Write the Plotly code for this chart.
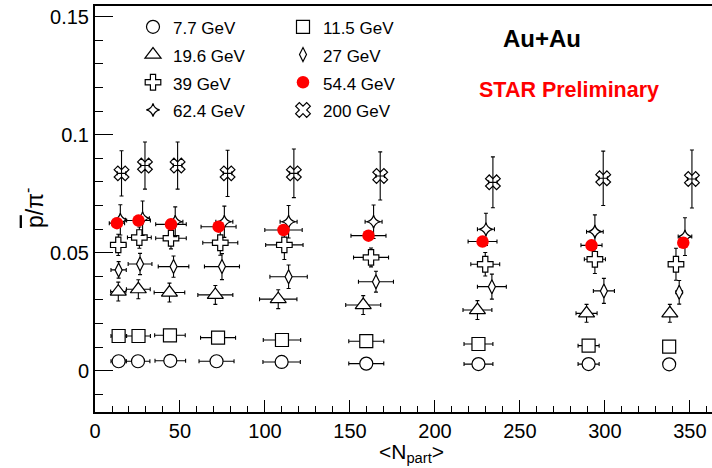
import plotly.graph_objects as go

# ---------------- data ----------------
npart_7p7 = [13.9, 25.3, 44.3, 71.5, 109.8, 159.6, 225.6, 290.4, 337.8]
ratio_7p7 = [0.0040, 0.0040, 0.0042, 0.0040, 0.0037, 0.0030, 0.0028, 0.0028, 0.0027]
err_7p7 = [0.0004, 0.0004, 0.0004, 0.0004, 0.0004, 0.0004, 0.0004, 0.0004, 0.0004]

npart_11p5 = [13.9, 25.6, 44.1, 72.4, 110.0, 159.6, 225.6, 290.4, 337.8]
ratio_11p5 = [0.0147, 0.0147, 0.0150, 0.0140, 0.0130, 0.0125, 0.0113, 0.0106, 0.0102]
err_11p5 = [0.0008, 0.0008, 0.0008, 0.0008, 0.0008, 0.0008, 0.0008, 0.0008, 0.0008]

npart_19p6 = [13.7, 25.5, 43.8, 70.8, 107.8, 157.8, 225.0, 289.2, 338.2]
ratio_19p6 = [0.0335, 0.0345, 0.0331, 0.0321, 0.0303, 0.0278, 0.0257, 0.0243, 0.0243]
err_19p6 = [0.0040, 0.0040, 0.0040, 0.0040, 0.0040, 0.0040, 0.0040, 0.0038, 0.0038]

npart_27 = [13.9, 26.5, 46.2, 74.7, 113.9, 165.3, 233.5, 299.4, 343.7]
ratio_27 = [0.0427, 0.0452, 0.0441, 0.0441, 0.0398, 0.0377, 0.0356, 0.0338, 0.0332]
err_27 = [0.0035, 0.0045, 0.0045, 0.0055, 0.0050, 0.0044, 0.0053, 0.0053, 0.0050]

npart_39 = [13.7, 26.1, 44.7, 73.7, 111.4, 162.4, 229.6, 294.1, 341.8]
ratio_39 = [0.0533, 0.0564, 0.0561, 0.0542, 0.0533, 0.0480, 0.0451, 0.0472, 0.0451]
err_39 = [0.0045, 0.0045, 0.0045, 0.0053, 0.0062, 0.0040, 0.0050, 0.0060, 0.0068]

npart_54p4 = [12.9, 25.6, 44.7, 72.7, 110.9, 160.9, 228.0, 292.1, 346.1]
ratio_54p4 = [0.0625, 0.0636, 0.0620, 0.0610, 0.0596, 0.0572, 0.0547, 0.0531, 0.0542]
err_54p4 = [0.0015, 0.0015, 0.0015, 0.0015, 0.0015, 0.0015, 0.0015, 0.0015, 0.0015]

npart_62p4 = [14.9, 28.0, 47.2, 76.1, 113.9, 163.9, 230.0, 294.1, 347.1]
ratio_62p4 = [0.0639, 0.0646, 0.0631, 0.0631, 0.0631, 0.0631, 0.0599, 0.0589, 0.0568]
err_62p4 = [0.0064, 0.0073, 0.0063, 0.0066, 0.0069, 0.0071, 0.0068, 0.0071, 0.0080]
npart_err_62p4 = [3.0, 4.0, 4.5, 5.0, 5.0, 5.0, 5.0, 4.9, 4.0]

npart_200 = [15.6, 29.4, 48.6, 78.0, 117.0, 167.8, 234.1, 299.0, 351.2]
ratio_200 = [0.0836, 0.0869, 0.0869, 0.0836, 0.0836, 0.0825, 0.0798, 0.0815, 0.0812]
err_200 = [0.0096, 0.0100, 0.0100, 0.0098, 0.0103, 0.0102, 0.0108, 0.0115, 0.0123]
npart_err_200 = [2.5, 2.5, 2.5, 2.5, 2.5, 2.5, 2.5, 2.5, 2.5]

# horizontal (Npart) uncertainty per centrality bin
npart_err = [4.5, 7.0, 9.0, 10.3, 11.0, 10.3, 8.5, 6.2, 2.0]

x_ticks = [0, 50, 100, 150, 200, 250, 300, 350]
y_ticks = [0, 0.05, 0.1, 0.15]

FONT = "Liberation Sans, Arial, Helvetica, sans-serif"
INK = "#000000"

fig = go.Figure()


def add_series(name, xs, ys, ey, ex, symbol, size, color, fill, legend, lw=1.2):
    fig.add_trace(go.Scatter(
        x=xs, y=ys, mode="markers",
        name="<span style='font-size:17px'>%s</span>" % name,
        legend=legend,
        marker=dict(symbol=symbol, size=size, color=fill,
                    line=dict(color=color, width=lw)),
        error_y=dict(type="data", array=ey, visible=True, color=INK,
                     thickness=1.1, width=2),
        error_x=dict(type="data", array=ex, visible=True, color=INK,
                     thickness=1.1, width=2),
    ))


add_series("7.7 GeV", npart_7p7, ratio_7p7, err_7p7, npart_err,
           "circle", 13, INK, "white", "legend")
add_series("11.5 GeV", npart_11p5, ratio_11p5, err_11p5, npart_err,
           "square", 13, INK, "white", "legend2")
add_series("19.6 GeV", npart_19p6, ratio_19p6, err_19p6, npart_err,
           "triangle-up", 14, INK, "white", "legend")
add_series("27 GeV", npart_27, ratio_27, err_27, npart_err,
           "diamond-tall", 10, INK, "white", "legend2")
add_series("39 GeV", npart_39, ratio_39, err_39, npart_err,
           "cross", 13, INK, "white", "legend")
add_series("62.4 GeV", npart_62p4, ratio_62p4, err_62p4, npart_err_62p4,
           "star-diamond", 9.5, INK, "white", "legend")
add_series("54.4 GeV", npart_54p4, ratio_54p4, err_54p4, npart_err,
           "circle", 12.5, "red", "red", "legend2", lw=0)
add_series("200 GeV", npart_200, ratio_200, err_200, npart_err_200,
           "x-open", 13, INK, INK, "legend2")

# ---------------- layout ----------------
W, H = 712, 468
ML, MR, MT, MB = 95, 0, 6, 56
PW = W - ML - MR
PH = H - MT - MB
x_range = [0, 363]
y_range = [-0.0175, 0.1545]


def px_x(p):
    return (p - ML) / PW


def px_y(p):
    return 1 - (p - MT) / PH


legend_common = dict(
    font=dict(family=FONT, size=19, color=INK),
    bgcolor="rgba(0,0,0,0)", borderwidth=0,
    orientation="v", xanchor="left", yanchor="top",
    itemsizing="trace", tracegroupgap=0,
)

fig.update_layout(
    width=W, height=H,
    margin=dict(l=ML, r=MR, t=MT, b=MB, pad=0),
    paper_bgcolor="white", plot_bgcolor="white",
    font=dict(family=FONT, color=INK),
    showlegend=True,
    legend=dict(x=px_x(133), y=px_y(8), **legend_common),
    legend2=dict(x=px_x(283), y=px_y(8), **legend_common),
    xaxis=dict(
        range=x_range, tickvals=x_ticks, showgrid=False, zeroline=False,
        showline=True, linewidth=2, linecolor=INK, mirror=True,
        ticks="inside", ticklen=12, tickwidth=1, tickcolor=INK,
        tickfont=dict(family=FONT, size=20, color=INK),
        minor=dict(dtick=10, ticks="inside", ticklen=6, tickcolor=INK,
                   tickwidth=1, showgrid=False),
    ),
    yaxis=dict(
        range=y_range, tickvals=y_ticks, showgrid=False, zeroline=False,
        showline=True, linewidth=2, linecolor=INK, mirror=False,
        ticks="inside", ticklen=18, tickwidth=1, tickcolor=INK,
        tickfont=dict(family=FONT, size=20, color=INK),
        minor=dict(dtick=0.01, ticks="inside", ticklen=8, tickcolor=INK,
                   tickwidth=1, showgrid=False),
    ),
    annotations=[
        dict(text="<b>Au+Au</b>", x=px_x(542), y=px_y(38), xref="paper",
             yref="paper", showarrow=False, xanchor="center",
             yanchor="middle", font=dict(family=FONT, size=24, color=INK)),
        dict(text="<b>STAR Preliminary</b>", x=px_x(569), y=px_y(90),
             xref="paper", yref="paper", showarrow=False, xanchor="center",
             yanchor="middle", font=dict(family=FONT, size=21.5, color="red")),
        dict(text="<span style='text-decoration:overline'>p</span>/π<sup>-</sup>",
             x=px_x(33), y=px_y(208), xref="paper", yref="paper",
             showarrow=False, textangle=-90, xanchor="center",
             yanchor="middle", font=dict(family=FONT, size=23, color=INK)),
        dict(text="&lt;N<sub>part</sub>&gt;", x=px_x(411), y=px_y(453),
             xref="paper", yref="paper", showarrow=False, xanchor="center",
             yanchor="middle", font=dict(family=FONT, size=21, color=INK)),
    ],
)

fig.write_html("out.html")
